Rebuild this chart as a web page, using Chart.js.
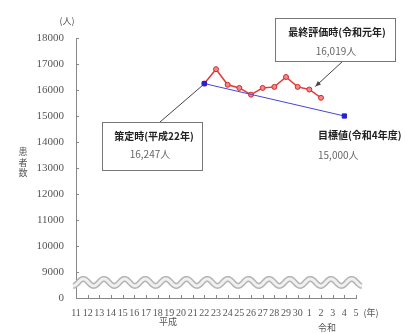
<!DOCTYPE html>
<html>
<head>
<meta charset="utf-8">
<script src="https://cdn.jsdelivr.net/npm/chart.js@4.4.0/dist/chart.umd.min.js"></script>
<style>
  html, body { margin: 0; background: #fff; }
</style>
</head>
<body>
<canvas id="chart" width="405" height="333"></canvas>
<script>
// 年（平成11〜30年、令和1〜5年）
const years = ['11','12','13','14','15','16','17','18','19','20','21','22','23','24','25','26','27','28','29','30','1','2','3','4','5'];
// 患者数の実績（平成22年〜令和2年）
const actual = [null,null,null,null,null,null,null,null,null,null,null,
  16247,16800,16200,16080,15820,16080,16120,16500,16120,16019,15700,null,null,null];
// 策定時から目標値（令和4年度）まで
const target = [null,null,null,null,null,null,null,null,null,null,null,
  16247,null,null,null,null,null,null,null,null,null,null,null,15000,null];
const yMin = 8000, yMax = 18000, yStep = 1000;

const jp = '"Noto Sans CJK JP", sans-serif';
const serif = '"Liberation Serif", serif';

function box(ctx, x, y, w, h) {
  ctx.fillStyle = '#fff';
  ctx.fillRect(x, y, w, h);
  ctx.strokeStyle = '#777';
  ctx.lineWidth = 1;
  ctx.strokeRect(x + 0.5, y + 0.5, w, h);
}

const decorations = {
  id: 'decorations',
  afterDraw(chart) {
    const ctx = chart.ctx;
    const xs = chart.scales.x, ys = chart.scales.y;
    const area = chart.chartArea;
    ctx.save();

    // 内向きの目盛
    ctx.strokeStyle = '#888';
    ctx.lineWidth = 1;
    ctx.beginPath();
    for (let v = yMin + yStep; v <= yMax; v += yStep) {
      const py = Math.round(ys.getPixelForValue(v)) + 0.5;
      ctx.moveTo(area.left, py);
      ctx.lineTo(area.left + 3, py);
    }
    for (let i = 1; i < years.length; i++) {
      const px = Math.round(xs.getPixelForValue(i)) + 0.5;
      ctx.moveTo(px, area.bottom);
      ctx.lineTo(px, area.bottom - 3);
    }
    ctx.stroke();

    // 省略の波線
    const wy = ys.getPixelForValue(8600);
    const x0 = area.left - 3, x1 = area.right + 6;
    const cycles = 14, amp = 3.5;
    const wave = () => {
      ctx.beginPath();
      for (let x = x0; x <= x1; x += 0.5) {
        const t = (x - x0) / (x1 - x0) * cycles * Math.PI * 2;
        const yy = wy + amp * Math.cos(t);
        if (x === x0) ctx.moveTo(x, yy); else ctx.lineTo(x, yy);
      }
      ctx.stroke();
    };
    ctx.lineWidth = 6; ctx.strokeStyle = '#b4b4b4'; wave();
    ctx.lineWidth = 3; ctx.strokeStyle = '#f0f0f0'; wave();

    // 単位
    ctx.fillStyle = '#555';
    ctx.font = '9px ' + jp;
    ctx.textAlign = 'center';
    ctx.textBaseline = 'middle';
    ctx.fillText('(人)', 67, 21);
    ctx.fillText('(年)', 371, 313);
    ctx.fillText('平成', 168, 322);
    ctx.fillText('令和', 327, 328);
    const yTitle = '患者数';
    for (let i = 0; i < yTitle.length; i++) {
      ctx.fillText(yTitle[i], 23, 152 + i * 10.5);
    }

    const red = chart.getDatasetMeta(1).data;
    const p22 = red[11], pR1 = red[20];

    // 策定時
    ctx.strokeStyle = '#444';
    ctx.lineWidth = 1;
    ctx.beginPath();
    ctx.moveTo(160, 122);
    ctx.lineTo(p22.x - 2, p22.y + 2);
    ctx.stroke();
    box(ctx, 102, 122, 100, 48);
    ctx.fillStyle = '#222';
    ctx.font = 'bold 10px ' + jp;
    ctx.fillText('策定時(平成22年)', 154, 136);
    ctx.fillStyle = '#666';
    ctx.font = '10px ' + jp;
    ctx.fillText('16,247人', 150, 154);

    // 最終評価時（矢印）
    const ax = pR1.x + 6, ay = pR1.y - 3;
    ctx.strokeStyle = '#444';
    ctx.beginPath();
    ctx.moveTo(343, 61);
    ctx.lineTo(ax, ay);
    ctx.stroke();
    const ang = Math.atan2(ay - 61, ax - 343);
    ctx.fillStyle = '#444';
    ctx.beginPath();
    ctx.moveTo(ax, ay);
    ctx.lineTo(ax - 6 * Math.cos(ang - 0.4), ay - 6 * Math.sin(ang - 0.4));
    ctx.lineTo(ax - 6 * Math.cos(ang + 0.4), ay - 6 * Math.sin(ang + 0.4));
    ctx.closePath();
    ctx.fill();
    box(ctx, 275, 18, 120, 43);
    ctx.fillStyle = '#222';
    ctx.font = 'bold 10px ' + jp;
    ctx.fillText('最終評価時(令和元年)', 337, 32);
    ctx.fillStyle = '#666';
    ctx.font = '10px ' + jp;
    ctx.fillText('16,019人', 336, 51);

    // 目標値
    ctx.textAlign = 'left';
    ctx.fillStyle = '#222';
    ctx.font = 'bold 10px ' + jp;
    ctx.fillText('目標値(令和4年度)', 318, 135);
    ctx.fillStyle = '#666';
    ctx.font = '10px ' + jp;
    ctx.fillText('15,000人', 318, 155);

    ctx.restore();
  }
};

new Chart(document.getElementById('chart'), {
  type: 'line',
  data: {
    labels: years,
    datasets: [
      {
        label: '目標',
        data: target,
        spanGaps: true,
        borderColor: '#4646d2',
        borderWidth: 1,
        pointStyle: 'rect',
        pointRadius: 3,
        pointBackgroundColor: '#2222dd',
        pointBorderColor: '#2222dd',
      },
      {
        label: '患者数',
        data: actual,
        borderColor: '#e23a3a',
        borderWidth: 1.5,
        pointRadius: 2.5,
        pointBackgroundColor: '#f08a8a',
        pointBorderColor: '#d42a2a',
        pointBorderWidth: 1,
      },
    ],
  },
  options: {
    responsive: false,
    animation: false,
    layout: { padding: { left: 0, right: 49, top: 38, bottom: 0 } },
    plugins: { legend: { display: false }, tooltip: { enabled: false } },
    scales: {
      x: {
        offset: false,
        grid: { drawOnChartArea: false, drawTicks: false },
        border: { color: '#888' },
        ticks: {
          autoSkip: false,
          maxRotation: 0,
          padding: 9,
          color: '#555',
          font: { family: serif, size: 10 },
        },
        afterFit: s => { s.height = 35; },
      },
      y: {
        min: yMin,
        max: yMax,
        grid: { drawOnChartArea: false, drawTicks: false },
        border: { color: '#888' },
        ticks: {
          stepSize: yStep,
          padding: 12,
          color: '#555',
          font: { family: serif, size: 11 },
          callback: v => v === yMin ? '0' : String(v),
        },
        afterFit: s => { s.width = 76; },
      },
    },
  },
  plugins: [decorations],
});
</script>
</body>
</html>
